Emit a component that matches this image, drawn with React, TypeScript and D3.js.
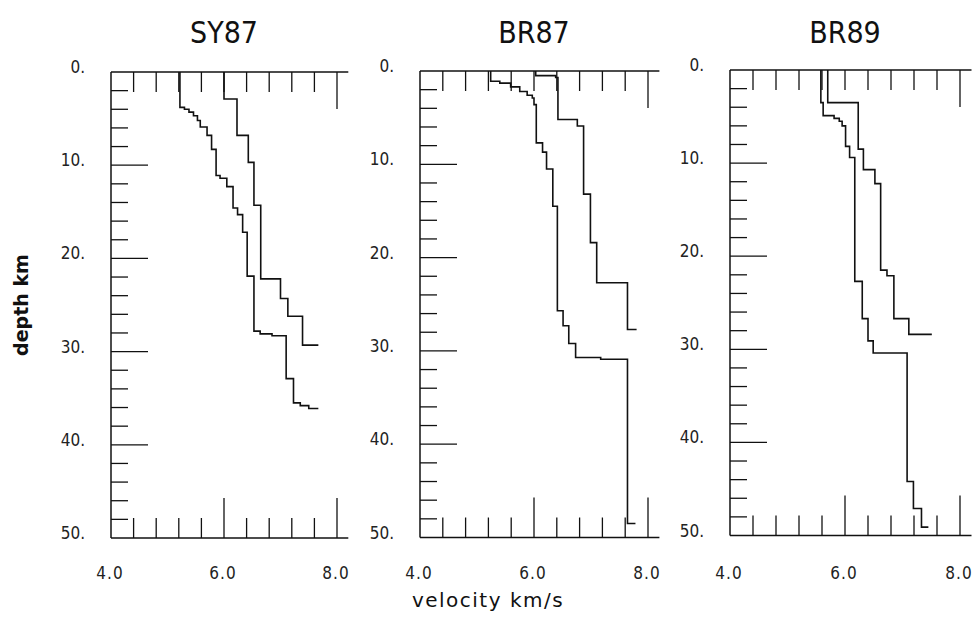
import React from "react";
import * as d3 from "d3";

// ---- data: velocity (km/s) at the top of each step, and its depth (km) ----
const panelTitles = ["SY87", "BR87", "BR89"];

const sy87SlowVel = [5.22, 5.30, 5.38, 5.46, 5.53, 5.58, 5.70, 5.78, 5.86, 5.93, 6.05, 6.16, 6.24, 6.33, 6.41, 6.53, 6.64, 6.85, 7.10, 7.23, 7.35, 7.50, 7.67];
const sy87SlowDep = [0, 3.8, 4.0, 4.3, 4.7, 5.2, 5.9, 6.8, 8.3, 11.1, 11.4, 12.3, 14.6, 15.3, 17.2, 21.9, 27.8, 28.1, 28.3, 32.9, 35.5, 35.8, 36.1];
const sy87FastVel = [6.0, 6.23, 6.43, 6.53, 6.65, 7.0, 7.13, 7.39, 7.67];
const sy87FastDep = [0, 2.9, 6.8, 9.7, 14.3, 22.2, 24.3, 26.2, 29.3];

const br87SlowVel = [5.24, 5.40, 5.59, 5.75, 5.88, 5.97, 6.0, 6.04, 6.15, 6.22, 6.33, 6.41, 6.51, 6.61, 6.73, 7.17, 7.64, 7.78];
const br87SlowDep = [0, 1.1, 1.3, 1.7, 2.2, 2.6, 2.9, 3.6, 7.7, 8.7, 10.5, 14.5, 25.7, 27.3, 29.2, 30.7, 30.9, 48.5];
const br87FastVel = [6.03, 6.38, 6.42, 6.76, 6.87, 6.99, 7.10, 7.64, 7.80];
const br87FastDep = [0, 0.5, 0.7, 5.2, 5.9, 13.2, 18.4, 22.7, 27.7];

const br89SlowVel = [5.58, 5.62, 5.81, 5.90, 5.95, 6.01, 6.08, 6.17, 6.30, 6.40, 6.49, 7.08, 7.19, 7.33, 7.45];
const br89SlowDep = [0, 3.5, 4.9, 5.2, 5.5, 6.0, 8.2, 9.4, 22.7, 26.7, 29.1, 30.4, 44.2, 47.1, 49.1];
const br89FastVel = [5.70, 6.23, 6.32, 6.52, 6.62, 6.73, 6.85, 7.11, 7.51];
const br89FastDep = [0, 3.5, 8.5, 10.7, 12.2, 21.5, 22.1, 26.7, 28.4];

const velTicks = [4.0, 4.4, 4.8, 5.2, 5.6, 6.0, 6.4, 6.8, 7.2, 7.6, 8.0];
const velLabels = ["4.0", "6.0", "8.0"];
const depthTicks = d3.range(0, 51, 2);
const depthLabels = ["0.", "10.", "20.", "30.", "40.", "50."];

const profiles = [
  [[sy87SlowVel, sy87SlowDep], [sy87FastVel, sy87FastDep]],
  [[br87SlowVel, br87SlowDep], [br87FastVel, br87FastDep]],
  [[br89SlowVel, br89SlowDep], [br89FastVel, br89FastDep]],
];

// layout per panel
const panelLeft = [111, 420, 730];
const panelW = [226, 228, 230];
const panelTop = [72, 71, 70];
const panelBot = [538, 537.5, 535.5];

const condensed = "'DejaVu Sans Condensed', 'Liberation Sans Narrow', 'DejaVu Sans', sans-serif";

function Panel({ i }: { i: number }) {
  const x = d3.scaleLinear().domain([4, 8]).range([panelLeft[i], panelLeft[i] + panelW[i]]);
  const y = d3.scaleLinear().domain([0, 50]).range([panelTop[i], panelBot[i]]);
  const line = d3
    .line<[number, number]>()
    .x((d) => x(d[0]))
    .y((d) => y(d[1]))
    .curve(d3.curveStepBefore);
  const x0 = x(4);
  const xEnd = x(8.2);
  const yT = y(0);
  const yB = y(50);
  const stroke = "#111";
  const isMajorDepth = (d: number) => d % 10 === 0 && d !== 0 && d !== 50;
  return (
    <g>
      <text x={(x(4) + x(8)) / 2} y={43} textAnchor="middle" fontFamily={condensed} fontStretch="condensed" fontSize={30} fill="#111">
        {panelTitles[i]}
      </text>
      {/* frame */}
      <line x1={x0} x2={xEnd} y1={yT} y2={yT} stroke={stroke} strokeWidth={1.5} />
      <line x1={x0} x2={xEnd} y1={yB} y2={yB} stroke={stroke} strokeWidth={1.5} />
      <line x1={x0} x2={x0} y1={yT} y2={yB} stroke={stroke} strokeWidth={1.5} />
      {/* velocity ticks top & bottom */}
      {velTicks.slice(1).map((v) => (
        <line key={"t" + v} x1={x(v)} x2={x(v)} y1={yT} y2={yT + (v === 8 ? 37 : 20)} stroke={stroke} strokeWidth={1.3} />
      ))}
      {velTicks.slice(1).map((v) => (
        <line key={"b" + v} x1={x(v)} x2={x(v)} y1={yB} y2={yB - (v === 8 || v === 6 ? 40 : 20)} stroke={stroke} strokeWidth={1.3} />
      ))}
      {/* depth ticks */}
      {depthTicks.slice(1, -1).map((d) => (
        <line key={"d" + d} x1={x0} x2={x0 + (isMajorDepth(d) ? 37 : 17)} y1={y(d)} y2={y(d)} stroke={stroke} strokeWidth={1.3} />
      ))}
      {depthLabels.map((lab, k) => (
        <text key={lab} x={x0 - 26} y={y(k * 10) + 1} textAnchor="end" fontFamily={condensed} fontStretch="condensed" fontSize={17} fill="#222">
          {lab}
        </text>
      ))}
      {velLabels.map((lab) => (
        <text key={lab} x={x(+lab) - 1} y={579} textAnchor="middle" fontFamily={condensed} fontStretch="condensed" fontSize={17} letterSpacing={1} fill="#222">
          {lab}
        </text>
      ))}
      {profiles[i].map(([vel, dep], k) => (
        <path
          key={k}
          d={line(vel.map((v, j) => [v, dep[j]] as [number, number])) || ""}
          fill="none"
          stroke={stroke}
          strokeWidth={1.6}
        />
      ))}
    </g>
  );
}

export default function App() {
  return (
    <svg width={976} height={632} style={{ position: "absolute", left: 0, top: 0, background: "#fff" }}>
      <rect width={976} height={632} fill="#fff" />
      {[0, 1, 2].map((i) => (
        <Panel key={i} i={i} />
      ))}
      <text
        transform="translate(28,305) rotate(-90)"
        textAnchor="middle"
        fontFamily="'DejaVu Sans', sans-serif"
        fontWeight="bold"
        fontSize={19}
        fill="#111"
      >
        depth km
      </text>
      <text x={488} y={607} textAnchor="middle" fontFamily="'DejaVu Sans', sans-serif" fontSize={20} letterSpacing={1.5} fill="#111">
        velocity km/s
      </text>
    </svg>
  );
}
